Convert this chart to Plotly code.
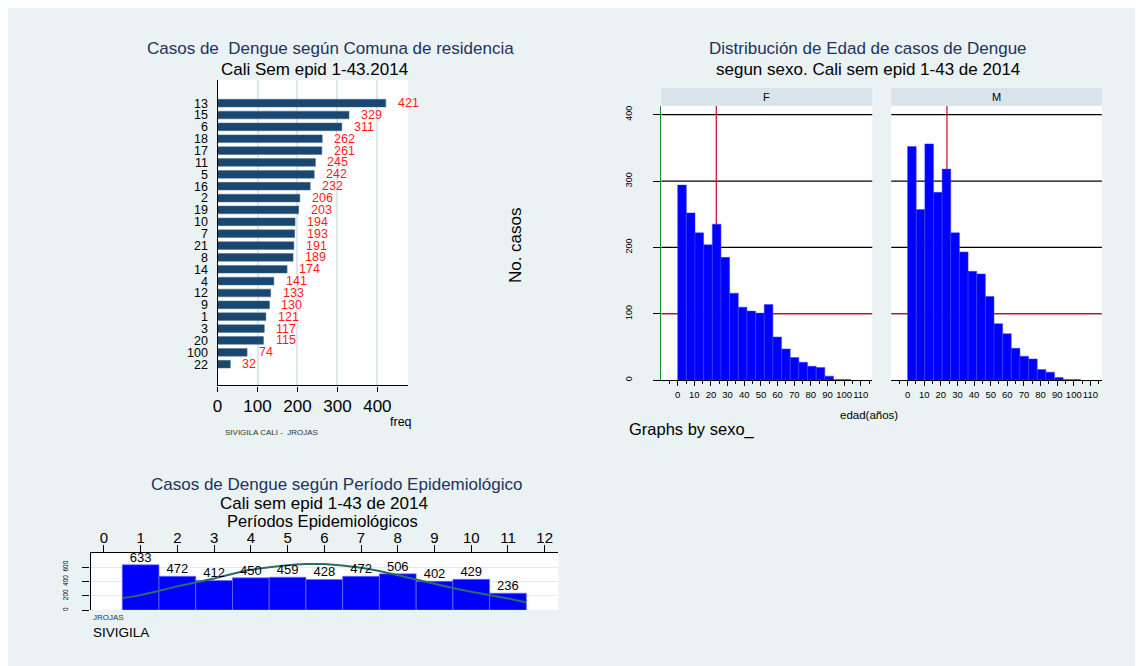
import plotly.graph_objects as go

# --- datos: casos por comuna (de arriba hacia abajo)
comunas = ["13", "15", "6", "18", "17", "11", "5", "16", "2", "19", "10", "7",
           "21", "8", "14", "4", "12", "9", "1", "3", "20", "100", "22"]
casos_comuna = [421, 329, 311, 262, 261, 245, 242, 232, 206, 203, 194, 193,
                191, 189, 174, 141, 133, 130, 121, 117, 115, 74, 32]

# --- datos: histograma de edad por sexo
edad_bin_width = 5.2
casos_f = [294, 252, 222, 204, 235, 185, 131, 110, 104, 101, 114, 65, 47, 34, 27, 21, 19, 6, 1, 1]
casos_m = [352, 257, 356, 283, 318, 222, 193, 164, 160, 126, 85, 70, 48, 36, 32, 16, 12, 4, 1, 1]
media_edad_f = 23.2
media_edad_m = 23.7
linea_ref = 100
lineas_grid = [200, 300, 400]

# --- datos: casos por periodo epidemiologico
periodos = [1, 2, 3, 4, 5, 6, 7, 8, 9, 10, 11]
casos_periodo = [633, 472, 412, 450, 459, 428, 472, 506, 402, 429, 236]
curva_x = [0.5, 1, 2, 3, 4, 5, 5.5, 6, 7, 8, 9, 10, 11, 11.5]
curva_y = [167, 209, 331, 442, 562, 628, 642, 642, 590, 488, 367, 255, 163, 107]

W, H = 1135, 658
OX, OY = 8, 8


def px(x):
    # pixel de la imagen -> coordenada paper (con pequeña corrección horizontal)
    return ((x - 4.4) / 0.996 - OX) / W


def py(y):
    return 1 - (y - OY) / H


navy = "#22335e"
font = "Liberation Sans, Arial, sans-serif"
edad_x = [round(i * edad_bin_width, 2) for i in range(len(casos_f))]

fig = go.Figure()

fig.add_trace(go.Bar(x=casos_comuna, y=comunas, orientation="h", width=0.65,
                     marker=dict(color="#1a476f", line=dict(color="#4a6d8c", width=0.5)),
                     xaxis="x", yaxis="y"))
fig.add_trace(go.Bar(x=edad_x, y=casos_f, width=edad_bin_width, offset=0,
                     marker=dict(color="#0000ff", line=dict(color="#4040ff", width=0.5)),
                     xaxis="x2", yaxis="y2"))
fig.add_trace(go.Bar(x=edad_x, y=casos_m, width=edad_bin_width, offset=0,
                     marker=dict(color="#0000ff", line=dict(color="#4040ff", width=0.5)),
                     xaxis="x3", yaxis="y3"))
fig.add_trace(go.Bar(x=periodos, y=casos_periodo, width=1,
                     marker=dict(color="#0000ff", line=dict(color="#7070ff", width=0.7)),
                     xaxis="x4", yaxis="y4"))
fig.add_trace(go.Scatter(x=curva_x, y=curva_y, mode="lines", line=dict(color="#2b6b68", width=2, shape="spline"),
                         xaxis="x4", yaxis="y4"))
fig.add_trace(go.Scatter(x=periodos, y=casos_periodo, mode="text", text=[str(v) for v in casos_periodo],
                         textposition="top center", textfont=dict(size=13, color="black"),
                         cliponaxis=False, xaxis="x4", yaxis="y4"))

hist_x = dict(range=[-9.8, 116.9], tick0=0, dtick=10, tickangle=0, ticks="outside", ticklen=5,
              tickcolor="black", tickfont=dict(size=9.5, color="black"),
              showline=True, linecolor="black", linewidth=1.3, showgrid=False, zeroline=False,
              minor=dict(ticks="outside", ticklen=3, tick0=0, dtick=5, tickcolor="black"))

fig.update_layout(
    width=W, height=H, autosize=False,
    margin=dict(l=0, r=0, t=0, b=0),
    paper_bgcolor="#eaf2f3", plot_bgcolor="white",
    showlegend=False, barmode="overlay",
    font=dict(family=font, color="black"),
    xaxis=dict(domain=[px(217), px(407.3)], range=[0, 476], anchor="y",
               tickvals=[0, 100, 200, 300, 400], ticks="outside", ticklen=5, tickcolor="black",
               tickfont=dict(size=17), showline=True, linecolor="black", linewidth=1.3,
               showgrid=True, gridcolor="#dde6eb", gridwidth=1.5, zeroline=False),
    yaxis=dict(domain=[py(386), py(80)], type="category", range=[23.79, -1.96], anchor="x",
               dtick=1, ticks="outside", ticklen=6, tickcolor="rgba(0,0,0,0)", tickfont=dict(size=12.5),
               showline=True, linecolor="black", linewidth=1.3, showgrid=False),
    xaxis2=dict(domain=[px(661), px(872)], anchor="y2", **hist_x),
    yaxis2=dict(domain=[py(380.7), py(106)], range=[0, 413.3], anchor="x2", dtick=100,
                showgrid=False, zeroline=False,
                ticks="outside", ticklen=7, tickcolor="black", tickangle=-90,
                tickfont=dict(size=9), ticklabelstandoff=18,
                showline=True, linecolor="#1f8a1f", linewidth=1.3),
    xaxis3=dict(domain=[px(891), px(1101.7)], anchor="y3", **hist_x),
    yaxis3=dict(domain=[py(380.7), py(106)], range=[0, 413.3], anchor="x3", dtick=100,
                showgrid=False, zeroline=False,
                showticklabels=False, ticks="", showline=False),
    xaxis4=dict(domain=[px(90), px(558)], range=[-0.362, 12.373], anchor="y4", side="top",
                tick0=0, dtick=1, ticks="outside", ticklen=7, tickcolor="black",
                tickfont=dict(size=15), ticklabelstandoff=-4,
                showline=True, linecolor="black", linewidth=1.3,
                showgrid=False, zeroline=False),
    yaxis4=dict(domain=[py(611), py(554)], range=[0, 795], anchor="x4",
                tickvals=[0, 200, 400, 600], tickangle=-90, tickfont=dict(size=6.5),
                ticks="outside", ticklen=7, tickcolor="black", ticklabelstandoff=12,
                showline=True, linecolor="black", linewidth=1.3,
                showgrid=True, gridcolor="#e3ebef", gridwidth=1.2, zeroline=False),
)

# lineas de referencia del histograma (debajo de las barras) y franjas F / M
paneles = [("x2", "y2", media_edad_f, 661, 872), ("x3", "y3", media_edad_m, 891, 1101.7)]
for xa, ya, media, x0, x1 in paneles:
    for g in lineas_grid:
        fig.add_shape(type="line", xref=xa + " domain", yref=ya, x0=0, x1=1, y0=g, y1=g,
                      line=dict(color="black", width=1.2), layer="below")
    fig.add_shape(type="line", xref=xa + " domain", yref=ya, x0=0, x1=1, y0=linea_ref, y1=linea_ref,
                  line=dict(color="#b01a36", width=1.3), layer="below")
    fig.add_shape(type="line", xref=xa, yref=ya + " domain", x0=media, x1=media, y0=0, y1=1,
                  line=dict(color="#d0173c", width=1.3), layer="below")
    fig.add_shape(type="rect", xref="paper", yref="paper", x0=px(x0), x1=px(x1), y0=py(106), y1=py(88),
                  fillcolor="#d8e4ea", line=dict(width=0), layer="below")

# etiquetas rojas de las barras por comuna
for i, v in enumerate(casos_comuna):
    fig.add_annotation(x=v, y=i, xref="x", yref="y", text=str(v), showarrow=False,
                       xanchor="left", xshift=10, font=dict(size=12.5, color="#ff1a1a"))


def texto(x, y, s, size, color="black", xanchor="center", angle=0):
    fig.add_annotation(x=px(x), y=py(y), xref="paper", yref="paper", text=s, showarrow=False,
                       xanchor=xanchor, yanchor="middle", textangle=angle,
                       font=dict(size=size, color=color))


texto(330, 49, "Casos de  Dengue según Comuna de residencia", 17, navy)
texto(314, 70, "Cali Sem epid 1-43.2014", 17)
texto(401, 423, "freq", 12.5)
texto(271, 433, "SIVIGILA CALI -  JROJAS", 8, "#333333")

texto(867.5, 49, "Distribución de Edad de casos de Dengue", 17, navy)
texto(868, 70, "segun sexo. Cali sem epid 1-43 de 2014", 17)
texto(515, 245, "No. casos", 17, angle=-90)
texto(766.5, 97, "F", 11)
texto(996.3, 97, "M", 11)
texto(868.5, 416, "edad(años)", 11.5)
texto(627, 430, "Graphs by sexo_", 16.5, xanchor="left")

texto(336, 485, "Casos de Dengue según Período Epidemiológico", 17, navy)
texto(323, 504, "Cali sem epid 1-43 de 2014", 17)
texto(322, 522, "Períodos Epidemiológicos", 16.5)
texto(90, 618, "JROJAS", 8, "#333333", xanchor="left")
texto(90, 633, "SIVIGILA", 13.5, xanchor="left")

fig.write_html("out.html")
